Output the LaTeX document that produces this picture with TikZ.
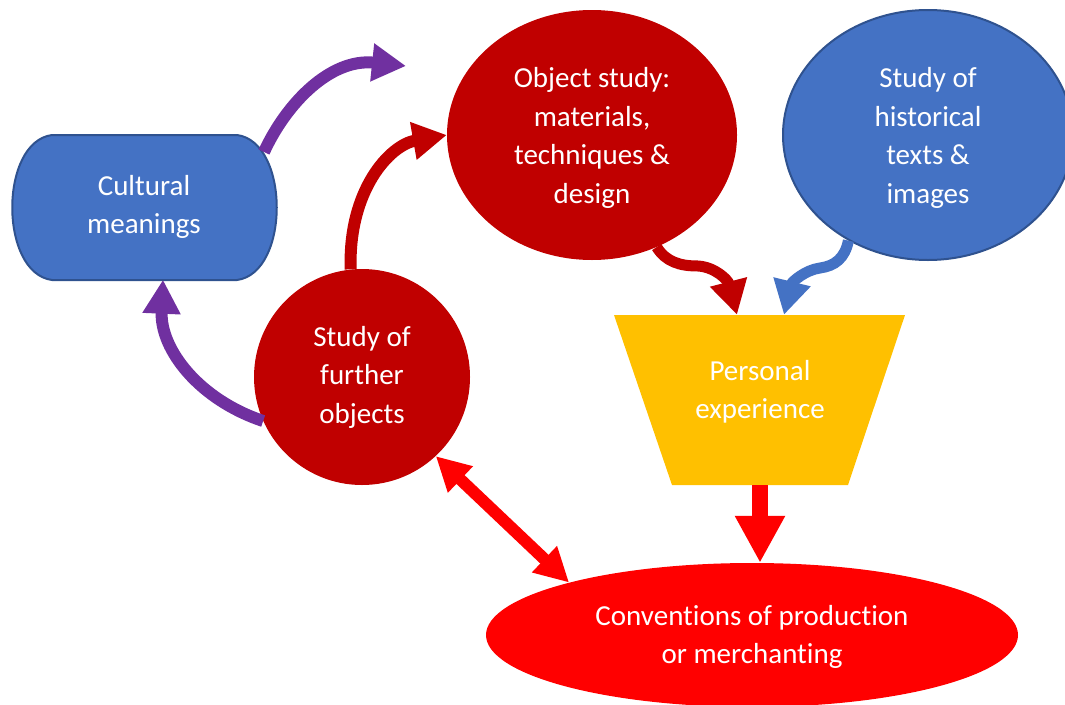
\documentclass[tikz,border=0pt]{standalone}
\usepackage{fontspec}
\setmainfont[Ligatures=NoCommon]{Carlito}
\usetikzlibrary{arrows.meta,shapes.geometric}
\definecolor{dred}{HTML}{C00000}
\definecolor{bred}{HTML}{FF0000}
\definecolor{pblue}{HTML}{4472C4}
\definecolor{bdr}{HTML}{2F528F}
\definecolor{gold}{HTML}{FFC000}
\definecolor{purp}{HTML}{7030A0}
\tikzset{
  lbl/.style={text=white, align=center, font=\fontsize{29}{38.5}\selectfont, inner sep=0pt},
  blob/.style={ellipse, inner sep=0pt, lbl},
  conn/.style={line width=12pt, -{Triangle[width=36pt,length=34pt]}},
}
\begin{document}
\begin{tikzpicture}[x=1pt,y=-1pt]
\useasboundingbox (0,0) rectangle (1065,704);
\clip (0,0) rectangle (1065,704);
% shapes
\fill[pblue, draw=bdr, line width=2pt] (52,135) -- (237,135) .. controls (290,142) and (290,273) .. (237,280) -- (52,280) .. controls (-1,273) and (-1,142) .. cycle;
\node[lbl, minimum width=265pt, minimum height=145pt] (cm) at (144,207) {Cultural\\meanings};
\node[blob, fill=dred, minimum width=290pt, minimum height=250pt] (os) at (592,135) {};
\node[lbl] (ost) at (592,138) {Object study:\\materials,\\techniques \&\\design};
\node[blob, fill=pblue, draw=bdr, line width=2pt, minimum width=290pt, minimum height=250pt] (hi) at (928,135) {};
\node[lbl] (hit) at (928,138) {Study of\\historical\\texts \&\\images};
\node[blob, fill=dred, minimum width=216pt, minimum height=216pt] (fo) at (362,377) {Study of\\further\\objects};
\fill[gold] (614,315) -- (905,315) -- (848,485) -- (672,485) -- cycle;
\node[minimum width=291pt, minimum height=170pt, inner sep=0pt] (pe) at (760,400) {};
\node[lbl] (pet) at (760,392) {Personal\\experience};
\node[blob, fill=bred, minimum width=532pt, minimum height=144pt] (cv) at (752,635) {};
\node[lbl] (cvt) at (752,637) {Conventions of production\\or merchanting};
% connectors
\coordinate (cmS) at (264,152);
\coordinate (ptip) at (406,66);
\draw[conn, purp] (cmS) .. controls (286,104) and (330,58) .. (ptip);
\draw[conn, purp] (fo.204) .. controls (200,400) and (160,350) .. ([xshift=19pt]cm.south);
\draw[conn, dred] (fo.96) .. controls (348,190) and (390,145) .. (os.west);
\draw[conn, dred, line width=11pt] (os.300) .. controls (666,262) and (680,266) .. (698,266) .. controls (715,267) and (728,280) .. ([xshift=-23pt]pe.north);
\draw[conn, pblue, line width=11pt] (hi.233) .. controls (845,258) and (835,266) .. (820,268) .. controls (805,270) and (792,282) .. ([xshift=24pt]pe.north);
\draw[bred, line width=16pt, -{Triangle[width=47pt,length=47pt]}] (pe.south) -- (pe.south |- cv.north);
\draw[bred, line width=12pt, {Triangle[width=34pt,length=34pt]}-{Triangle[width=34pt,length=34pt]}] (fo.313) -- (cv.164.6);
\end{tikzpicture}
\end{document}
